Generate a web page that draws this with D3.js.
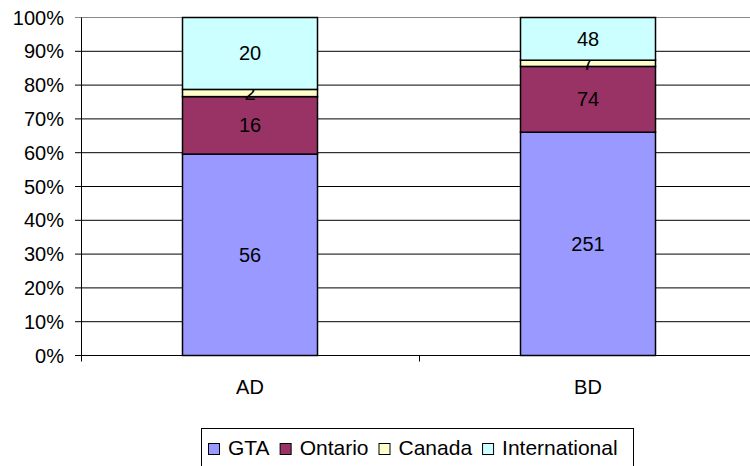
<!DOCTYPE html>
<html>
<head>
<meta charset="utf-8">
<script src="https://cdn.jsdelivr.net/npm/d3@7"></script>
<style>
  body { margin: 0; background: #fff; }
  text { font-family: Arial, "Liberation Sans", sans-serif; fill: #000; }
</style>
</head>
<body>
<div id="graf"></div>
<script>
// datos
categorias = ['AD', 'BD']
series = ['GTA', 'Ontario', 'Canada', 'International']
GTA = [56, 251]
Ontario = [16, 74]
Canada = [2, 7]
International = [20, 48]
colores = ['#9999FF', '#993366', '#FFFFCC', '#CCFFFF']
ticks = [0, 0.1, 0.2, 0.3, 0.4, 0.5, 0.6, 0.7, 0.8, 0.9, 1]

valores = { GTA: GTA, Ontario: Ontario, Canada: Canada, International: International }
tabla = categorias.map((c, i) => {
  let fila = { cat: c }
  series.forEach(s => fila[s] = valores[s][i])
  return fila
})

ancho_total = 750
alto_total = 466

svg = d3.select('#graf').append('svg')
        .attr('width', ancho_total)
        .attr('height', alto_total)

x = d3.scaleBand()
      .domain(categorias)
      .range([81, 757])

y = d3.scaleLinear()
      .domain([0, 1])
      .range([355.5, 17.5])

color = d3.scaleOrdinal()
          .domain(series)
          .range(colores)

// rejilla
svg.append('g')
   .selectAll('line')
   .data(ticks)
   .enter()
   .append('line')
     .attr('x1', 75)
     .attr('x2', 750)
     .attr('y1', d => y(d))
     .attr('y2', d => y(d))
     .attr('stroke', d => d == 1 ? '#888' : '#000')
     .attr('stroke-width', 1)

// eje y
svg.append('line')
   .attr('x1', 81.5).attr('x2', 81.5)
   .attr('y1', y(1)).attr('y2', y(0))
   .attr('stroke', '#000')

svg.append('g')
   .selectAll('text')
   .data(ticks)
   .enter()
   .append('text')
     .attr('x', 64)
     .attr('y', d => y(d) + 7)
     .attr('text-anchor', 'end')
     .style('font-size', '20px')
     .text(d => d3.format('.0%')(d))

// eje x
svg.append('line')
   .attr('x1', 75).attr('x2', 750)
   .attr('y1', y(0)).attr('y2', y(0))
   .attr('stroke', '#000')

svg.append('g')
   .selectAll('line')
   .data([81, 757].concat(categorias.slice(1).map(c => x(c))))
   .enter()
   .append('line')
     .attr('x1', d => Math.round(d) + 0.5)
     .attr('x2', d => Math.round(d) + 0.5)
     .attr('y1', y(0))
     .attr('y2', y(0) + 6)
     .attr('stroke', '#000')

svg.append('g')
   .selectAll('text')
   .data(categorias)
   .enter()
   .append('text')
     .attr('x', d => x(d) + x.bandwidth() / 2)
     .attr('y', 394)
     .attr('text-anchor', 'middle')
     .style('font-size', '20px')
     .text(d => d)

// barras apiladas
pila = d3.stack().keys(series).offset(d3.stackOffsetExpand)(tabla)
anchoBarra = x.bandwidth() * 0.4

capas = svg.append('g')
           .selectAll('g')
           .data(pila)
           .enter()
           .append('g')
             .attr('fill', d => color(d.key))

capas.selectAll('rect')
     .data(d => d)
     .enter()
     .append('rect')
       .attr('x', d => Math.round(x(d.data.cat) + (x.bandwidth() - anchoBarra) / 2) + 0.5)
       .attr('width', Math.round(anchoBarra))
       .attr('y', d => y(d[1]))
       .attr('height', d => y(d[0]) - y(d[1]))
       .attr('stroke', '#000')
       .attr('stroke-width', 1.5)

capas.selectAll('text')
     .data(d => d.map(p => Object.assign({ key: d.key }, p)))
     .enter()
     .append('text')
       .attr('x', d => x(d.data.cat) + x.bandwidth() / 2)
       .attr('y', d => (y(d[0]) + y(d[1])) / 2 + 7)
       .attr('text-anchor', 'middle')
       .style('font-size', '20px')
       .style('fill', '#000')
       .text(d => d.data[d.key])

// leyenda
leyenda = svg.append('g')
leyenda.append('rect')
       .attr('x', 201.5).attr('y', 428.5)
       .attr('width', 432).attr('height', 40)
       .attr('fill', '#fff')
       .attr('stroke', '#000')

posX = 208
series.forEach(s => {
  leyenda.append('rect')
         .attr('x', posX + 0.5).attr('y', 443.5)
         .attr('width', 11).attr('height', 11)
         .attr('fill', color(s))
         .attr('stroke', '#000')
  t = leyenda.append('text')
             .attr('x', posX + 20)
             .attr('y', 455)
             .style('font-size', '21px')
             .text(s)
  posX = posX + 20 + t.node().getComputedTextLength() + 10
})
</script>
</body>
</html>
